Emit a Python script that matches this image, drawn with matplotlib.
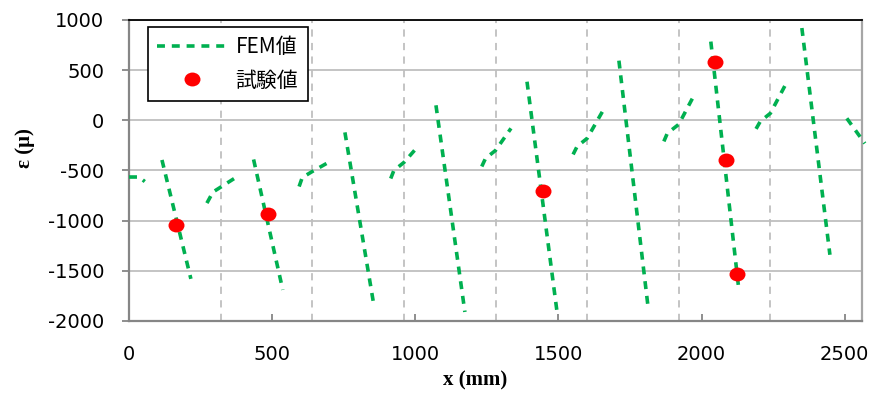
import numpy as np
import matplotlib
matplotlib.use("Agg")
import matplotlib.pyplot as plt
from matplotlib.path import Path
from matplotlib.transforms import Affine2D
from matplotlib.ticker import MultipleLocator


# ----- Datos -----

# FEM: un tramo por sección (x en mm, deformación en μ)
fem_x = [
    [0, 35, 55],
    [115, 216],
    [272, 293, 370],
    [435, 537],
    [594, 605, 640, 696],
    [754, 855],
    [914, 925, 960, 1000],
    [1072, 1173],
    [1232, 1245, 1280, 1334],
    [1390, 1494],
    [1551, 1565, 1600, 1655],
    [1711, 1812],
    [1868, 1880, 1920, 1969],
    [2032, 2130],
    [2190, 2205, 2240, 2291],
    [2350, 2448],
    [2507, 2570],
]
fem_y = [
    [-565, -565, -610],
    [-395, -1580],
    [-825, -715, -575],
    [-390, -1690],
    [-660, -570, -510, -420],
    [-120, -1840],
    [-580, -500, -420, -290],
    [150, -1910],
    [-460, -380, -300, -80],
    [385, -1890],
    [-340, -260, -180, 95],
    [595, -1840],
    [-210, -130, -40, 225],
    [785, -1690],
    [-85, -10, 70, 345],
    [920, -1340],
    [20, -230],
]

# Ensayo
ensayo_x = [165, 485, 1445, 2045, 2085, 2125]
ensayo_y = [-1040, -935, -700, 585, -400, -1530]

# Posiciones de las secciones (líneas verticales)
paso_seccion = 320


# ----- Gráfica -----

def unir_tramos(xs, ys):
    # Separa los tramos con NaN para dibujarlos en una sola línea
    x_all, y_all = [], []
    for x, y in zip(xs, ys):
        x_all += list(x) + [np.nan]
        y_all += list(y) + [np.nan]
    return np.array(x_all, dtype=float), np.array(y_all, dtype=float)


plt.rcParams["axes.unicode_minus"] = False

fig = plt.figure(figsize=(8.76, 3.96), dpi=100)
ax = fig.add_axes([0.1473, 0.1894, 0.8367, 0.7601])

gris = "#BFBFBF"
verde = "#00B050"

x_fem, y_fem = unir_tramos(fem_x, fem_y)
linea, = ax.plot(x_fem, y_fem, color=verde, lw=2.6, dashes=(2.2, 1.9),
                 label="FEM値", zorder=3, clip_on=False)

# marcador ligeramente ovalado
ovalo = Path.unit_circle().transformed(Affine2D().scale(1.15, 1.0))
ax.plot(ensayo_x, ensayo_y, linestyle="none", marker=ovalo, markersize=11.5,
        color="#FF0000", markeredgewidth=0, label="試験値", zorder=4)

ax.set_xlim(0, 2560)
ax.set_ylim(-2000, 1000)
ax.xaxis.set_major_locator(MultipleLocator(500))
ax.xaxis.set_minor_locator(MultipleLocator(paso_seccion))
ax.yaxis.set_major_locator(MultipleLocator(500))

ax.grid(axis="y", which="major", color=gris, lw=1.3, zorder=0)
ax.grid(axis="x", which="minor", color=gris, lw=1.3, linestyle=(0, (4, 3.5)), zorder=0)
ax.set_axisbelow(True)

for lado in ["left", "bottom"]:
    ax.spines[lado].set_color("#868686")
    ax.spines[lado].set_linewidth(1.6)
ax.spines["right"].set_color("#A6A6A6")
ax.spines["right"].set_linewidth(1.6)
ax.spines["top"].set_color("black")
ax.spines["top"].set_linewidth(1.3)

ax.tick_params(axis="x", which="major", direction="in", length=5, width=1.3,
               color="#868686", pad=17, labelsize=14)
ax.tick_params(axis="x", which="minor", length=0)
ax.tick_params(axis="y", which="major", direction="out", length=5, width=1.3,
               color="#868686", pad=13, labelsize=14)

ax.set_xlabel("x (mm)", fontsize=15, fontweight="bold", family="Liberation Serif")
ax.xaxis.set_label_coords(0.472, -0.163)
ax.set_ylabel("ε (μ)", fontsize=15, fontweight="bold", family="Liberation Serif")
ax.yaxis.set_label_coords(-0.128, 0.575)

leg = ax.legend(loc="upper left", bbox_to_anchor=(0.026, 0.977), borderaxespad=0,
                prop={"family": ["Noto Sans CJK JP", "DejaVu Sans"], "size": 15},
                handlelength=3.3, handletextpad=0.45, borderpad=0.45,
                labelspacing=0.55, fancybox=False, framealpha=1)
leg.get_frame().set_edgecolor("black")
leg.get_frame().set_linewidth(1.2)

plt.savefig("out.png", dpi=100)
